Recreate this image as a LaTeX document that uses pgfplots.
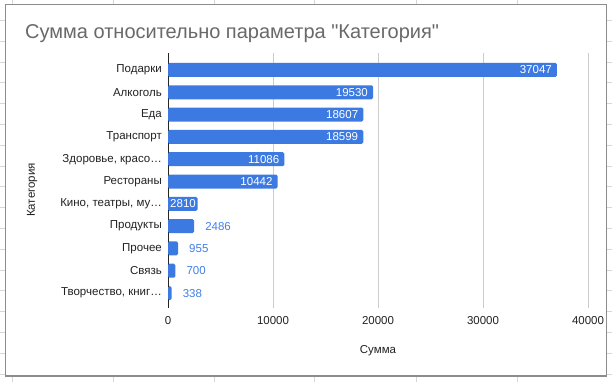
\documentclass[border=0pt]{standalone}
\usepackage{fontspec}
\setmainfont{Liberation Sans}[Ligatures=TeXOff]
\usepackage{pgfplots}
\pgfplotsset{compat=1.18}
\definecolor{barblue}{RGB}{60,122,226}
\definecolor{lblblue}{RGB}{66,128,232}
\definecolor{titlegray}{RGB}{105,105,105}
\definecolor{gridgray}{RGB}{204,204,204}
\definecolor{txt}{RGB}{34,34,34}
\begin{document}
\begin{tikzpicture}[x=1pt,y=1pt]
\path[use as bounding box] (0,0) rectangle (612,382);
% spreadsheet cells around the chart
\foreach \xx in {12,113,214,314,416,517} \draw[gridgray!80,line width=0.6pt] (\xx,0) -- (\xx,382);
\foreach \k in {-3,...,15} \draw[gridgray!80,line width=0.6pt] (0,{382-62-20.8*\k}) -- (612,{382-62-20.8*\k});
\draw[fill=white, draw=black!45, line width=1.2pt] (5.5,6) rectangle (606.5,377.5);
\node[anchor=west, font=\fontsize{20}{23}\selectfont, text=titlegray, inner sep=0] at (25,{382-34}) {Сумма относительно параметра "Категория"};
\node[rotate=90, font=\fontsize{11.5}{13}\selectfont, text=txt] at (32,{382-190}) {Категория};
\node[font=\fontsize{11.5}{13}\selectfont, text=txt] at (378,{382-351}) {Сумма};
\begin{axis}[at={(168pt,74pt)}, anchor=south west, scale only axis,
  width=420pt, height=255pt,
  xmin=0, xmax=40000, ymin=-0.76, ymax=10.67, y dir=reverse,
  xbar, bar width=14pt, bar shift=0pt,
  axis line style={draw=none},
  major tick length=0pt,
  scaled x ticks=false,
  xtick={0,10000,20000,30000,40000},
  xticklabels={0,10000,20000,30000,40000},
  xmajorgrids, grid style={gridgray, line width=0.8pt},
  extra x ticks={0}, extra x tick labels={},
  extra x tick style={grid style={black!85, line width=0.9pt}},
  ytick={0,...,10},
  yticklabels={Подарки,Алкоголь,Еда,Транспорт,{Здоровье, красо\ldots},Рестораны,{Кино, театры, му\ldots},Продукты,Прочее,Связь,{Творчество, книг\ldots}},
  tick label style={font=\fontsize{11.5}{13}\selectfont, text=txt},
  yticklabel style={inner xsep=0pt, xshift=-6pt},
  xticklabel style={inner ysep=0pt, yshift=-8pt},
  /pgf/number format/assume math mode=true,
  point meta=explicit symbolic,
  nodes near coords,
  every node near coord/.append style={font=\fontsize{11.5}{13}\selectfont, inner sep=0pt},
]
\addplot[fill=barblue, draw=none, rounded corners=1.5pt,
  nodes near coords style={anchor=east, xshift=-5pt, text=white}]
  coordinates {(37047,0) [37047] (19530,1) [19530] (18607,2) [18607] (18599,3) [18599] (11086,4) [11086] (10442,5) [10442]};
\addplot[fill=barblue, draw=none, rounded corners=1.5pt,
  nodes near coords style={anchor=east, xshift=-1.5pt, text=white}]
  coordinates {(2810,6) [2810]};
\addplot[fill=barblue, draw=none, rounded corners=1.5pt,
  nodes near coords style={anchor=west, xshift=11pt, text=lblblue}]
  coordinates {(2486,7) [2486] (955,8) [955] (700,9) [700] (338,10) [338]};
\end{axis}
\end{tikzpicture}
\end{document}
